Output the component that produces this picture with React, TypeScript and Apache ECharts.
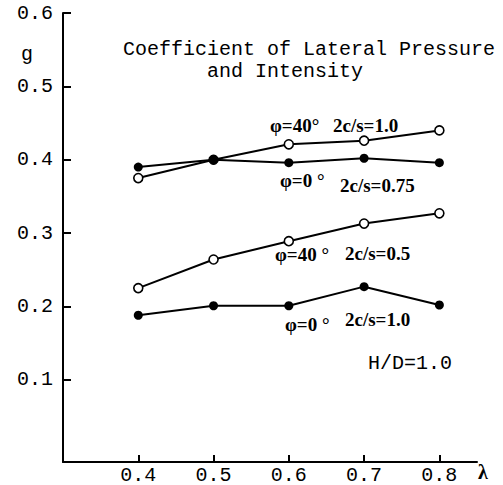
import React, { useEffect, useRef } from "react";
import * as echarts from "echarts";

const lambdas = [0.4, 0.5, 0.6, 0.7, 0.8];
const phi40c10 = [0.375, 0.4, 0.421, 0.426, 0.44];
const phi0c075 = [0.39, 0.4, 0.396, 0.402, 0.396];
const phi40c05 = [0.225, 0.264, 0.289, 0.313, 0.327];
const phi0c10 = [0.188, 0.201, 0.201, 0.227, 0.202];
const yTicks = [0.1, 0.2, 0.3, 0.4, 0.5, 0.6];
const xTicks = [0.4, 0.5, 0.6, 0.7, 0.8];

const MONO = "'Liberation Mono', 'DejaVu Sans Mono', monospace";
const SERIF = "'Liberation Serif', 'DejaVu Serif', serif";

function pairs(ys: number[]) {
  return lambdas.map((x, i) => [x, ys[i]]);
}

function lineSeries(name: string, ys: number[], filled: boolean) {
  return {
    name,
    type: "line",
    data: pairs(ys),
    symbol: "circle",
    symbolSize: 9,
    lineStyle: { color: "#000", width: 2 },
    itemStyle: { color: filled ? "#000" : "#fff", borderColor: "#000", borderWidth: filled ? 0 : 1.6 },
    z: filled ? 3 : 2,
  };
}

function label(text: string, x: number, y: number, font: string, size: number, weight: string = "normal") {
  return {
    type: "text",
    x,
    y,
    style: {
      text,
      fill: "#000",
      font: `${weight} ${size}px ${font}`,
      textAlign: "left",
      textVerticalAlign: "middle",
    },
  };
}

export default function App() {
  const ref = useRef<HTMLDivElement>(null);
  useEffect(() => {
    if (!ref.current) return;
    const chart = echarts.init(ref.current, undefined, { renderer: "svg" });
    chart.setOption({
      animation: false,
      backgroundColor: "#fff",
      grid: { left: 63, right: 26, top: 13, bottom: 21 },
      xAxis: {
        type: "value",
        min: 0.3,
        max: 0.85,
        axisLine: { onZero: false, lineStyle: { color: "#000", width: 2 } },
        axisTick: { inside: true, length: 7, customValues: xTicks, lineStyle: { color: "#000", width: 2 } },
        axisLabel: {
          customValues: xTicks,
          formatter: (v: number) => v.toFixed(1),
          fontFamily: MONO,
          fontSize: 20,
          color: "#000",
          margin: 3,
        },
        splitLine: { show: false },
      },
      yAxis: {
        type: "value",
        min: -0.012,
        max: 0.6,
        axisLine: { onZero: false, lineStyle: { color: "#000", width: 2 } },
        axisTick: { inside: true, length: 8, customValues: yTicks, lineStyle: { color: "#000", width: 2 } },
        axisLabel: {
          customValues: yTicks,
          formatter: (v: number) => v.toFixed(1),
          fontFamily: MONO,
          fontSize: 20,
          color: "#000",
          margin: 10,
        },
        splitLine: { show: false },
      },
      series: [
        lineSeries("phi40 2c/s=1.0", phi40c10, false),
        lineSeries("phi0 2c/s=0.75", phi0c075, true),
        lineSeries("phi40 2c/s=0.5", phi40c05, false),
        lineSeries("phi0 2c/s=1.0", phi0c10, true),
      ],
      graphic: [
        label("Coefficient of Lateral Pressure", 123, 49, MONO, 20),
        label("and Intensity", 207, 71, MONO, 20),
        label("g", 21, 54, MONO, 20),
        label("λ", 478, 472, SERIF, 20, "bold"),
        label("H/D=1.0", 368, 363, MONO, 20),
        label("φ=40°", 270, 125, SERIF, 19, "bold"),
        label("2c/s=1.0", 333, 125, SERIF, 19, "bold"),
        label("φ=0 °", 280, 180, SERIF, 19, "bold"),
        label("2c/s=0.75", 340, 185, SERIF, 19, "bold"),
        label("φ=40 °", 275, 254, SERIF, 19, "bold"),
        label("2c/s=0.5", 345, 253, SERIF, 19, "bold"),
        label("φ=0 °", 285, 324, SERIF, 19, "bold"),
        label("2c/s=1.0", 345, 319, SERIF, 19, "bold"),
      ],
    });
    return () => chart.dispose();
  }, []);
  return (
    <div
      ref={ref}
      style={{ position: "fixed", left: 0, top: 0, width: 503, height: 485, background: "#fff" }}
    />
  );
}
